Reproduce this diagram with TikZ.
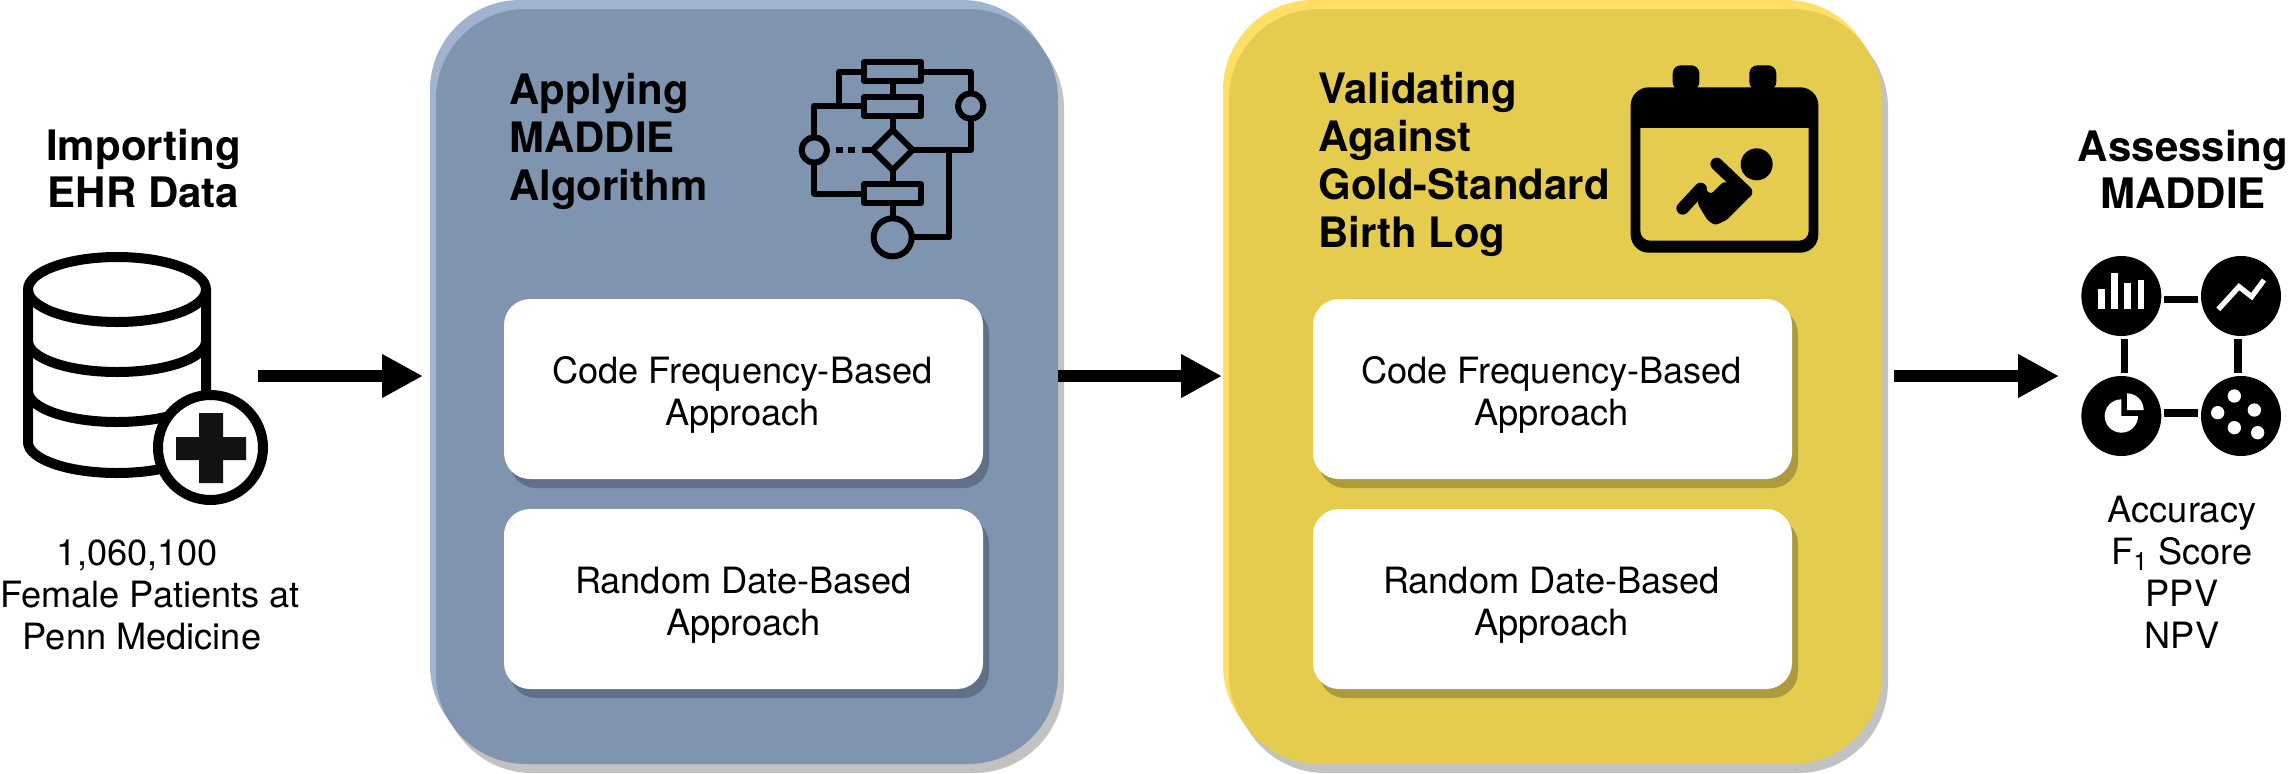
\documentclass[tikz,border=0pt]{standalone}
\usepackage{fontspec}
\setmainfont{TeX Gyre Heros}
\usetikzlibrary{arrows.meta}
\definecolor{bluemain}{HTML}{7F94AF}
\definecolor{bluelight}{HTML}{A0B4D0}
\definecolor{blueshade}{HTML}{5F7088}
\definecolor{yellowmain}{HTML}{E5CC4F}
\definecolor{yellowlight}{HTML}{FFDF66}
\definecolor{yellowshade}{HTML}{AC9B3D}
\definecolor{panelshade}{HTML}{C2C2C2}
\tikzset{
  bluepanel/.style={rounded corners=45pt,minimum width=311pt,minimum height=377.5pt,inner sep=0pt},
  yellowpanel/.style={bluepanel,minimum width=326.5pt},
  card/.style={rounded corners=13pt,minimum width=239.5pt,minimum height=90pt,inner sep=0pt},
  heading/.style={inner sep=0pt,font=\fontsize{21}{23.5}\selectfont\bfseries},
  panelheading/.style={heading,align=left,anchor=west,font=\fontsize{20.95}{24}\selectfont\bfseries},
  plaintext/.style={inner sep=0pt,align=center,font=\fontsize{18.1}{21}\selectfont},
  cardtext/.style={plaintext,xshift=-.5pt,yshift=-3pt},
  flow/.style={line width=6pt,-{Triangle[length=20.5pt,width=20.5pt]}},
  iconline/.style={line width=3pt,line join=round},
  dbline/.style={line width=5pt},
  link/.style={line width=3.7pt},
  whiteglyph/.style={white,line width=2.6pt,line join=miter},
  babylimb/.style={line width=6.3pt,line cap=round,line join=round},
}
\begin{document}
\begin{tikzpicture}[x=.5pt,y=-.5pt]
  \useasboundingbox (0,0) rectangle (2288,773);

  % panels
  \node[bluepanel,fill=panelshade] (applyshade) at (753,395.5) {};
  \node[bluepanel,fill=bluelight] (applylight) at (741,377.5) {};
  \node[bluepanel,fill=bluemain] (applybox) at (747,386.5) {};
  \node[yellowpanel,fill=panelshade] (validshade) at (1561.5,395.5) {};
  \node[yellowpanel,fill=yellowlight] (validlight) at (1549.5,377.5) {};
  \node[yellowpanel,fill=yellowmain] (validbox) at (1555.5,386.5) {};

  % cards
  \node[card,fill=blueshade] at (749.5,398) {};
  \node[card,fill=blueshade] at (749.5,608) {};
  \node[card,fill=white] (applyfreq) at (743.5,389) {};
  \node[card,fill=white] (applydate) at (743.5,599) {};
  \node[card,fill=yellowshade] at (1558.5,398) {};
  \node[card,fill=yellowshade] at (1558.5,608) {};
  \node[card,fill=white] (validfreq) at (1552.5,389) {};
  \node[card,fill=white] (validdate) at (1552.5,599) {};
  \node[cardtext] at (applyfreq) {Code Frequency-Based\\Approach};
  \node[cardtext,xshift=.5pt] at (applydate) {Random Date-Based\\Approach};
  \node[cardtext] at (validfreq) {Code Frequency-Based\\Approach};
  \node[cardtext] at (validdate) {Random Date-Based\\Approach};

  % text
  \node[heading,align=center] (importtitle) at (143.5,169) {Importing\\EHR Data};
  \node[panelheading] (applytitle) at (509,141) {Applying\\MADDIE\\Algorithm};
  \node[panelheading] (validtitle) at (1318,164.5) {Validating\\Against\\Gold-Standard\\Birth Log};
  \node[heading,align=center] (assesstitle) at (2183,169) {Assessing\\MADDIE};
  \node[plaintext] (patients) at (150,595) {1,060,100\hspace{12.5pt}\mbox{}\\Female Patients at\\Penn Medicine\hspace{8pt}\mbox{}};
  \node[plaintext] (metrics) at (2182,572) {Accuracy\\F\textsubscript{1} Score\\PPV\\NPV};

  % arrows
  \coordinate (tie) at (0,376);
  \coordinate (importout) at (258,376);
  \coordinate (applyin) at (423,376);
  \coordinate (validin) at (1222,376);
  \coordinate (assessin) at (2059,376);
  \coordinate (validout) at (1894,376);
  \draw[flow] (importout) -- (applyin);
  \draw[flow] (applybox.east |- tie) -- (validin);
  \draw[flow] (validout) -- (assessin);

  % database
  \begin{scope}[dbline]
    \draw (117,289.5) ellipse[x radius=89,y radius=32.5];
    \draw (28,289.5) -- (28,442) arc[start angle=180,end angle=0,x radius=89,y radius=31] -- (206,289.5);
    \draw (28,341) arc[start angle=180,end angle=0,x radius=89,y radius=31];
    \draw (28,391) arc[start angle=180,end angle=0,x radius=89,y radius=31];
  \end{scope}
  \draw[dbline,fill=white] (210.5,447.5) circle[radius=52.5];
  \fill[black!93] (199,413) -- (223,413) -- (223,437) -- (246,437) -- (246,460) -- (223,460)
    -- (223,483) -- (199,483) -- (199,460) -- (176,460) -- (176,437) -- (199,437) -- cycle;

  % flow chart icon
  \begin{scope}[shift={(780,40)},scale=1/3,iconline]
    \draw (253,66) rectangle (423,123);
    \draw (253,170) rectangle (423,228);
    \draw (253,432) rectangle (423,490);
    \draw (338,270) -- (398,330) -- (338,390) -- (278,330) -- cycle;
    \draw (103,330) circle[radius=38];
    \draw (572,198) circle[radius=38];
    \draw (338,592) circle[radius=57];
    \draw (253,95) -- (178,95) -- (178,198);
    \draw (253,198) -- (103,198) -- (103,292);
    \draw (103,368) -- (103,461) -- (253,461);
    \draw (338,123) -- (338,170);
    \draw (338,228) -- (338,270);
    \draw (338,390) -- (338,432);
    \draw (338,490) -- (338,535);
    \draw (423,95) -- (572,95) -- (572,160);
    \draw (572,236) -- (572,330) -- (398,330);
    \draw (507,330) -- (507,592) -- (395,592);
    \draw[line join=miter] (168,330) -- (188,330);
    \draw[line join=miter] (205,330) -- (225,330);
    \draw[line join=miter] (245,330) -- (278,330);
  \end{scope}

  % calendar icon
  \begin{scope}[shift={(1600,40)},scale=1/3]
    \fill[rounded corners=9pt] (92,142) rectangle (655,638);
    \fill[yellowmain] (121,264) -- (626,264) {[rounded corners=5pt] -- (626,602) -- (121,602)} -- cycle;
    \fill[rounded corners=4pt] (218,150) -- (218,76) -- (298,76) -- (298,150) -- cycle;
    \fill[rounded corners=4pt] (448,150) -- (448,76) -- (529,76) -- (529,150) -- cycle;
    \fill (470,373) circle[radius=48];
    \draw[babylimb] (350,372) -- (438,456);
    \draw[babylimb] (248,505) -- (302,447);
    \fill[rounded corners=1.5pt] (292,490) -- (322,540) -- (345,556) -- (380,540) -- (458,462)
      -- (440,440) -- (370,425) -- (332,463) -- (310,440) -- cycle;
  \end{scope}

  % metric icons
  \begin{scope}[shift={(2040,240)},scale=1/3]
    \fill (244,168) circle[radius=120];
    \fill (603,168) circle[radius=120];
    \fill (244,528) circle[radius=120];
    \fill (603,528) circle[radius=120];
    \draw[link] (373,179) -- (475,179);
    \draw[link] (373,519) -- (475,519);
    \draw[link] (254,297) -- (254,400);
    \draw[link] (594,297) -- (594,400);
    \foreach \barx/\bartop in {174/148,214/100,253/128,293/120}
      \fill[white] (\barx,\bartop) rectangle (\barx+20,208);
    \draw[whiteglyph] (535,208) -- (597,140) -- (635,170) -- (672,120);
    \fill[white] (244,528) -- (244,478) arc[start angle=-90,end angle=-360,radius=50] -- cycle;
    \fill[white] (261,510) -- (261,460) arc[start angle=-90,end angle=0,radius=50] -- cycle;
    \foreach \dotx/\doty in {583/468,643/510,533/518,583/563,653/578}
      \fill[white] (\dotx,\doty) circle[radius=20];
  \end{scope}
\end{tikzpicture}
\end{document}
